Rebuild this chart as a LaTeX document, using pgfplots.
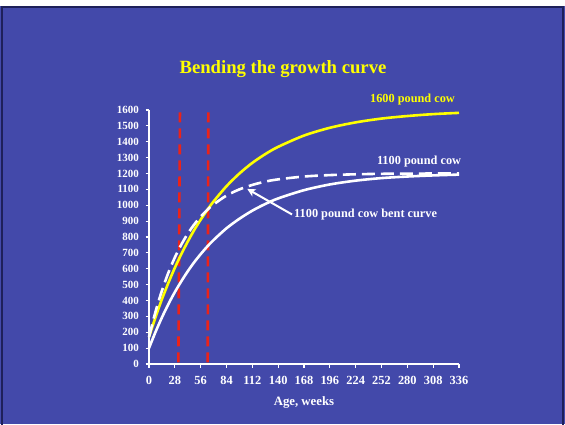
\documentclass[border=0pt]{standalone}
\usepackage{pgfplots}
\pgfplotsset{compat=1.18}
\usetikzlibrary{arrows.meta}
\usepackage{fontspec}
\setmainfont{Liberation Serif}
\definecolor{slideblue}{RGB}{67,73,170}
\definecolor{slideedge}{RGB}{30,32,90}
\definecolor{cowyellow}{RGB}{255,255,0}
\definecolor{cutred}{RGB}{235,35,25}

\begin{document}
\begin{tikzpicture}[x=1pt,y=1pt]
\useasboundingbox (0,0) rectangle (565,424);
% slide background
\fill[white] (0,0) rectangle (565,424);
\fill[slideblue] (0,0) rectangle (565,418);
\draw[slideedge, line width=2pt] (2,-5) -- (2,417) -- (563,417) -- (563,-5);

\node[text=cowyellow, font=\bfseries\fontsize{18.7}{22}\selectfont] at (283,355) {Bending the growth curve};

\begin{axis}[
  at={(149pt,60pt)}, anchor=south west,
  scale only axis, width=310pt, height=254pt,
  xmin=0, xmax=336, ymin=0, ymax=1600,
  axis x line=bottom, axis y line=left,
  axis line style={-, white, line width=1.4pt},
  xtick={0,28,...,336}, ytick={0,100,...,1600},
  tick align=outside, major tick length=3.5pt,
  tick style={white, line width=1.2pt},
  /pgf/number format/assume math mode=true,
  /pgf/number format/1000 sep={},
  xticklabel style={text=white, yshift=-5.5pt, font=\bfseries\fontsize{12.4}{14}\selectfont},
  yticklabel style={text=white, xshift=-3pt, font=\bfseries\fontsize{11}{12}\selectfont},
  clip=false,
]
% end of the two feeding periods
\addplot[cutred, line width=2.6pt, dash pattern=on 10pt off 6pt] coordinates {(31.8,10) (33.6,1610)};
\addplot[cutred, line width=2.6pt, dash pattern=on 10pt off 6pt] coordinates {(63.6,10) (64.3,1610)};

% 1100 pound cow
\addplot[white, line width=2.6pt, smooth] coordinates {
(0,100) (7,201) (14,293) (21,377) (28,453) (35,521) (42,584) (49,641) (56,692)
(63,739) (70,781) (84,855) (98,915) (112,966) (126,1008) (140,1043) (168,1095)
(196,1131) (224,1155) (252,1171) (280,1181) (308,1188) (336,1193)};

% 1600 pound cow
\addplot[cowyellow, line width=2.6pt, smooth] coordinates {
(0,170) (7,294) (14,408) (21,511) (28,606) (35,692) (42,771) (49,844) (56,909)
(63,969) (70,1024) (84,1120) (98,1200) (112,1267) (126,1322) (140,1368) (168,1439)
(196,1488) (224,1522) (252,1546) (280,1562) (308,1574) (336,1582)};

% 1100 pound cow, bent curve
\addplot[white, line width=2.6pt, smooth, dash pattern=on 13pt off 6pt] coordinates {
(0,170) (7,328) (14,462) (21,575) (28,671) (35,752) (42,821) (49,879) (56,928)
(63,970) (70,1005) (84,1061) (98,1100) (112,1128) (126,1149) (140,1163) (168,1181)
(196,1190) (224,1195) (252,1198) (280,1199) (308,1200) (336,1201)};

\draw[white, line width=2pt, -{Stealth[length=8pt, width=8pt, inset=2pt]}] (axis cs:155,942) -- (axis cs:106.5,1103);

\node[text=cowyellow, font=\bfseries\fontsize{12.3}{14}\selectfont] at (axis cs:285.6,1663) {1600 pound cow};
\node[text=white, font=\bfseries\fontsize{12.3}{14}\selectfont] at (axis cs:292.7,1274) {1100 pound cow};
\node[text=white, anchor=west, inner sep=0pt, font=\bfseries\fontsize{12.3}{14}\selectfont] at (axis cs:157.2,939) {1100 pound cow bent curve};
\node[text=white, font=\bfseries\fontsize{12.8}{14}\selectfont] at (axis cs:168,-240) {Age, weeks};
\end{axis}
\end{tikzpicture}
\end{document}
